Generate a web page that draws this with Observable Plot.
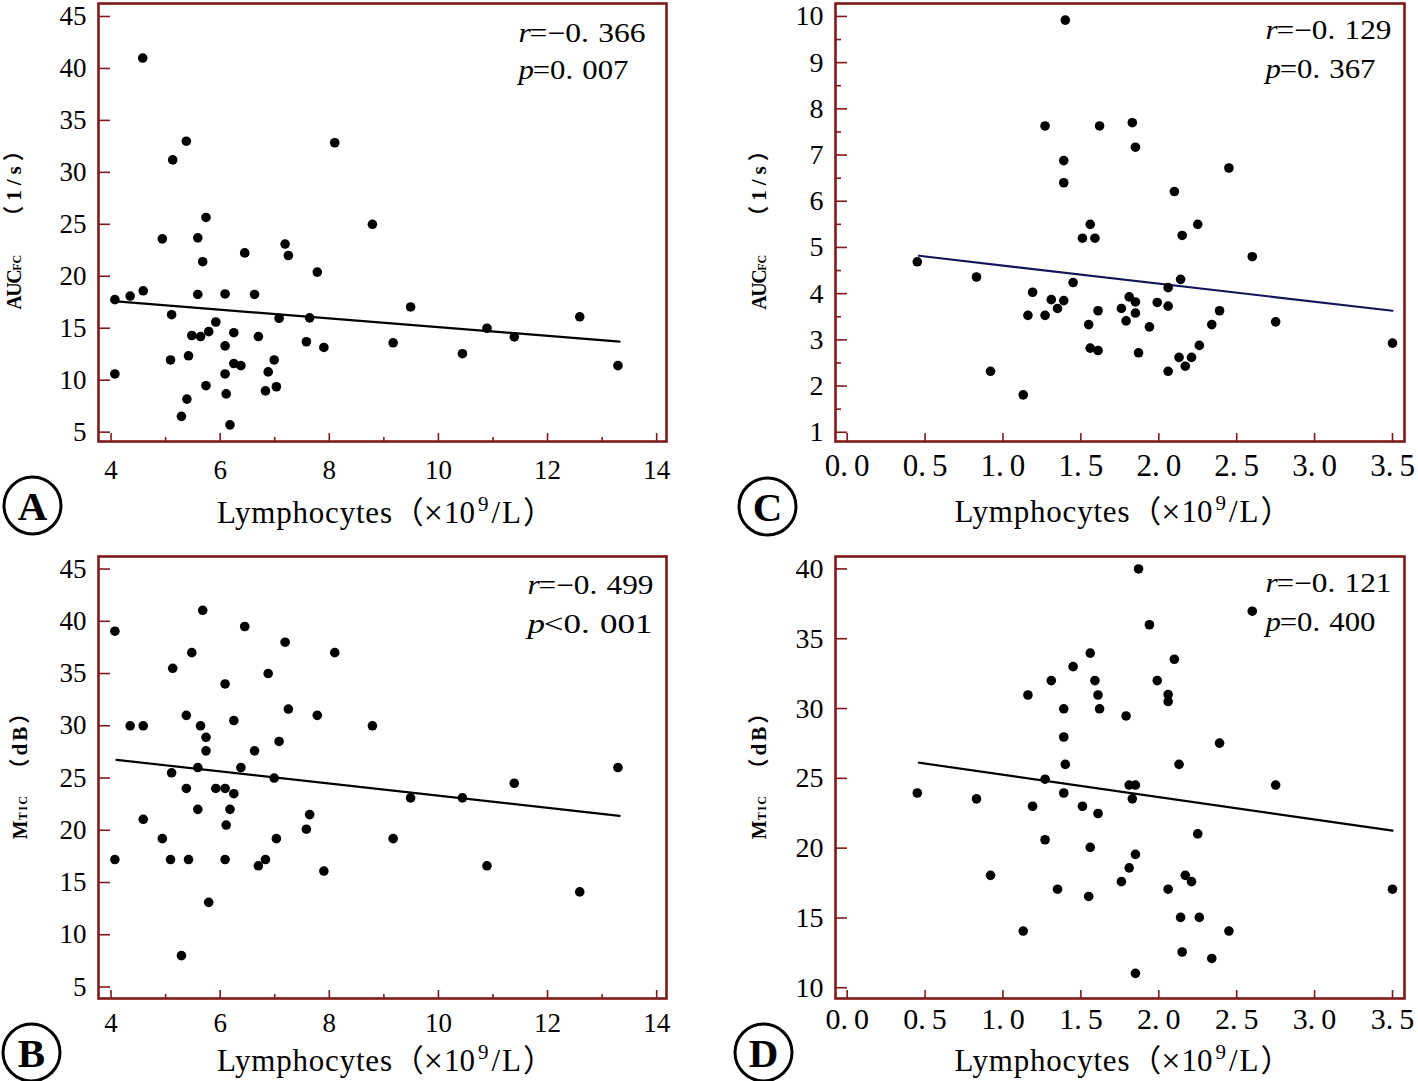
<!DOCTYPE html>
<html>
<head>
<meta charset="utf-8">
<script src="https://cdn.jsdelivr.net/npm/d3@7"></script>
<script src="https://cdn.jsdelivr.net/npm/@observablehq/plot@0.6"></script>
<style>
  html, body { margin: 0; padding: 0; background: #fff; }
  #wrap { position: relative; width: 1418px; height: 1081px; overflow: hidden; background: #fff; }
  .panel { position: absolute; }
  .panel svg { overflow: visible; }
</style>
</head>
<body>
<div id="wrap"></div>
<script>
// ---------- Data ----------
// Panel A: AUC_FC (1/s) vs lymphocytes (x10^9/L)
const lymphA = [4.58,5.38,5.13,8.10,5.74,8.79,4.94,5.59,6.45,7.19,7.25,5.68,7.78,4.07,4.35,4.59,5.59,6.09,6.63,9.49,5.11,7.08,7.64,12.59,5.92,5.79,5.48,5.64,6.25,6.70,10.89,11.39,7.58,9.17,6.09,7.90,5.09,5.42,6.99,10.44,6.25,6.38,13.29,4.07,6.09,6.88,5.74,7.03,6.83,6.11,5.39,5.29,6.18];
const aucA   = [41.0,33.0,31.2,32.85,25.66,25.0,23.6,23.7,22.25,23.1,22.0,21.4,20.4,17.75,18.1,18.6,18.25,18.3,18.25,17.05,16.3,15.96,16.0,16.1,15.6,14.67,14.3,14.2,14.57,14.2,15.0,14.17,13.7,13.6,13.3,13.15,11.95,12.35,11.95,12.55,11.6,11.4,11.4,10.6,10.6,10.8,9.47,9.37,8.97,8.68,8.18,6.52,5.7];
const fitAx = [4.10, 13.32];
const fitAy = [17.58, 13.71];

// Panel B: M_TIC (dB) vs lymphocytes
const lymphB = [5.68,4.07,6.45,7.19,5.48,8.10,5.13,6.88,6.09,7.25,5.38,7.78,6.25,4.35,4.59,5.64,8.79,5.74,7.08,5.74,6.63,5.59,6.38,13.29,5.11,6.99,11.39,5.38,5.92,6.09,6.25,9.49,10.44,5.59,6.18,7.64,4.59,6.11,7.58,4.94,7.03,9.17,4.07,5.09,5.42,6.09,6.83,6.70,10.89,7.90,12.59,5.79,5.29];
const mticB  = [41.05,39.05,39.5,38.0,37.0,37.0,35.5,35.0,34.0,31.6,31.0,31.0,30.5,30.0,30.0,30.0,30.0,28.9,28.5,27.6,27.6,26.0,26.0,26.0,25.5,25.0,24.5,24.0,24.0,24.0,23.5,23.1,23.1,22.0,22.0,21.5,21.05,20.5,20.1,19.2,19.2,19.2,17.2,17.2,17.2,17.2,17.2,16.6,16.6,16.1,14.1,13.1,8.0];
const fitBx = [4.10, 13.32];
const fitBy = [26.74, 21.38];

// Panel C: AUC_FC (1/s) vs lymphocytes
const lymphC = [1.40,1.27,1.62,1.83,1.85,1.39,1.39,2.45,2.10,1.56,2.25,1.51,1.59,2.15,2.60,0.45,0.83,2.14,1.45,1.19,1.31,1.39,1.81,2.06,1.85,1.99,2.06,1.35,1.76,1.61,2.39,1.85,1.16,1.27,1.79,2.75,1.55,2.34,1.94,3.50,2.26,1.56,1.61,1.87,2.13,2.21,2.17,0.92,2.06,1.13];
const aucC   = [9.92,7.63,7.63,7.70,7.17,6.88,6.40,6.72,6.21,5.50,5.50,5.20,5.20,5.26,4.80,4.69,4.36,4.31,4.24,4.03,3.87,3.85,3.93,4.13,3.82,3.81,3.73,3.68,3.68,3.63,3.63,3.58,3.53,3.53,3.41,3.39,3.33,3.33,3.28,2.93,2.88,2.82,2.77,2.72,2.62,2.62,2.43,2.32,2.32,1.81];
const fitCx = [0.46, 3.50];
const fitCy = [4.82, 3.63];

// Panel D: M_TIC (dB) vs lymphocytes
const lymphD = [1.87,2.60,1.94,1.56,2.10,1.45,1.31,1.59,1.99,1.16,1.61,2.06,2.06,1.39,1.62,1.79,2.39,1.39,1.40,2.13,1.27,1.81,1.85,2.75,0.45,1.39,0.83,1.83,1.19,1.51,1.61,2.25,1.27,1.56,1.85,1.81,0.92,2.17,1.76,2.21,1.35,2.06,3.50,1.55,2.14,2.26,1.13,2.45,2.15,2.34,1.85];
const mticD  = [40.0,36.97,36.0,33.97,33.53,33.0,32.0,32.0,32.0,30.97,30.97,31.0,30.5,29.98,29.98,29.47,27.52,27.96,26.0,26.0,24.94,24.52,24.52,24.52,23.95,23.95,23.53,23.53,23.0,23.0,22.48,21.02,20.6,20.06,19.55,18.59,18.05,18.05,17.6,17.6,17.06,17.06,17.06,16.54,15.04,15.04,14.06,14.06,12.56,12.1,11.03];
const fitDx = [0.46, 3.50];
const fitDy = [26.12, 21.25];

// Ticks
const xTicksAB = [4, 6, 8, 10, 12, 14];
const xMinorAB = [5, 7, 9, 11, 13];
const xTicksCD = [0, 0.5, 1, 1.5, 2, 2.5, 3, 3.5];
const yTicksAB = [5, 10, 15, 20, 25, 30, 35, 40, 45];
const yTicksC  = [1, 2, 3, 4, 5, 6, 7, 8, 9, 10];
const yMinorC  = [1.5, 2.5, 3.5, 4.5, 5.5, 6.5, 7.5, 8.5, 9.5];
const yTicksD  = [10, 15, 20, 25, 30, 35, 40];

// Texts
const xTitle = "Lymphocytes（×109/L）";
const stats = {A: ["r=−0.366", "p=0.007"], B: ["r=−0.499", "p<0.001"], C: ["r=−0.129", "p=0.367"], D: ["r=−0.121", "p=0.400"]};
const yTitles = {auc: ["AUC", "FC", "（1/s）"], mtic: ["M", "TIC", "（dB）"]};

// ---------- Rendering ----------
const maroon = "#7f1a1a";
const serif = "'Liberation Serif', 'Noto Sans CJK SC', serif";
const SVGNS = "http://www.w3.org/2000/svg";

function setParts(textEl, parts) {
  if (!textEl) return;
  textEl.textContent = "";
  for (const p of parts) {
    const ts = document.createElementNS(SVGNS, "tspan");
    ts.textContent = p.t;
    for (const [k, v] of Object.entries(p.a || {})) ts.setAttribute(k, v);
    textEl.appendChild(ts);
  }
}

function panel(cfg) {
  const W = 709, H = 540;
  const iw = W - cfg.ml - cfg.mr, ih = H - cfg.mt - cfg.mb;
  const pts = cfg.xs.map((x, i) => ({x, y: cfg.ys[i]}));
  const fit = cfg.fitX.map((x, i) => ({x, y: cfg.fitY[i]}));
  const marks = [
    Plot.tickX(cfg.xMajor, {x: d => d, stroke: maroon, strokeWidth: 1.6, insetTop: ih - 8}),
    Plot.tickY(cfg.yMajor, {y: d => d, stroke: maroon, strokeWidth: 1.6, insetRight: iw - 12}),
  ];
  if (cfg.xMinor) marks.push(Plot.tickX(cfg.xMinor, {x: d => d, stroke: maroon, strokeWidth: 1.6, insetTop: ih - 4}));
  if (cfg.yMinor) marks.push(Plot.tickY(cfg.yMinor, {y: d => d, stroke: maroon, strokeWidth: 1.6, insetRight: iw - 6}));
  marks.push(
    Plot.frame({stroke: maroon, strokeWidth: 2.6}),
    Plot.axisX(cfg.xMajor, {tickSize: 0, tickPadding: cfg.xPad, fontSize: cfg.xFont, fontFamily: serif, tickFormat: cfg.xFmt, label: null}),
    Plot.axisY(cfg.yMajor, {tickSize: 0, tickPadding: 12, fontSize: cfg.yFont, fontFamily: serif, label: null}),
    Plot.line(fit, {x: "x", y: "y", stroke: cfg.fitColor, strokeWidth: 2.2}),
    Plot.dot(pts, {x: "x", y: "y", r: 4.8, fill: "#000", stroke: "none"}),
    // text marks, in this order: x title, y title, r stat, p stat, panel letter
    Plot.text([xTitle], {frameAnchor: "bottom", dx: 3, dy: cfg.xTitleDy, lineAnchor: "middle", textAnchor: "middle", fontSize: 31, fontFamily: serif}),
    Plot.text([cfg.yTitle.join("")], {frameAnchor: "left", dx: cfg.yTitleDx, dy: cfg.yTitleDy, rotate: -90, lineAnchor: "middle", textAnchor: "middle", fontSize: 20, fontWeight: "bold", fontFamily: serif}),
    Plot.text([cfg.stat[0]], {frameAnchor: "top-right", dx: cfg.statDx, dy: cfg.rDy, textAnchor: "start", lineAnchor: "middle", fontSize: 27, fontFamily: serif}),
    Plot.text([cfg.stat[1]], {frameAnchor: "top-right", dx: cfg.statDx, dy: cfg.pDy, textAnchor: "start", lineAnchor: "middle", fontSize: 27, fontFamily: serif}),
    Plot.dot([cfg.letter], {frameAnchor: "bottom-left", dx: cfg.letterDx, dy: cfg.letterDy, r: 28.5, stroke: "#000", strokeWidth: 3, fill: "none"}),
    Plot.text([cfg.letter], {frameAnchor: "bottom-left", dx: cfg.letterDx, dy: cfg.letterDy + 1, lineAnchor: "middle", textAnchor: "middle", fontSize: 41, fontWeight: "bold", fontFamily: serif})
  );
  const svg = Plot.plot({
    width: W, height: H,
    marginLeft: cfg.ml, marginRight: cfg.mr, marginTop: cfg.mt, marginBottom: cfg.mb,
    x: {domain: cfg.xDomain, label: null},
    y: {domain: cfg.yDomain, label: null},
    style: {fontFamily: serif, background: "transparent", color: "#000", overflow: "visible"},
    marks
  });

  const textGroups = svg.querySelectorAll('g[aria-label="text"]');
  const tx = i => textGroups[i] ? textGroups[i].querySelector("text") : null;

  // x title with superscript 9
  setParts(tx(0), [
    {t: "Lymphocytes", a: {"letter-spacing": "0.8"}},
    {t: "（"},
    {t: "×", a: {"font-size": "34", dy: "1"}},
    {t: "10", a: {dx: "1", dy: "-1"}},
    {t: "9", a: {"font-size": "21", dx: "3", dy: "-12"}},
    {t: "/L", a: {dx: "3", dy: "12", "letter-spacing": "2"}},
    {t: "）"}
  ]);
  // y title with small subscript caps
  setParts(tx(1), [
    {t: cfg.yTitle[0], a: {"letter-spacing": cfg.capLs}},
    {t: cfg.yTitle[1], a: {"font-size": "12", "letter-spacing": cfg.subLs}},
    {t: cfg.yTitle[2], a: {dx: cfg.parenDx, "letter-spacing": cfg.parenLs, "font-size": "21"}}
  ]);
  // stats with italic r / p and wide gap after decimal point
  [2, 3].forEach((i, j) => {
    const el = tx(i);
    if (!el) return;
    const s = el.textContent;
    const head = s[0], rest = s.slice(1);
    const k = rest.indexOf(".");
    setParts(el, [
      {t: head, a: {"font-style": "italic"}},
      {t: rest.slice(0, k + 1), a: {dx: "-1"}},
      {t: rest.slice(k + 1), a: {dx: "8"}}
    ]);
    el.setAttribute("textLength", cfg.statW[j]);
    el.setAttribute("lengthAdjust", "spacingAndGlyphs");
  });
  // C/D x tick labels: wide gap after the decimal point
  if (cfg.gapTicks) {
    svg.querySelectorAll('g[aria-label="x-axis tick label"] text').forEach(el => {
      const s = el.textContent;
      const k = s.indexOf(".");
      if (k >= 0) setParts(el, [{t: s.slice(0, k + 1)}, {t: s.slice(k + 1), a: {dx: "6"}}]);
    });
  }

  const div = document.createElement("div");
  div.className = "panel";
  div.style.left = cfg.left + "px";
  div.style.top = cfg.top + "px";
  div.appendChild(svg);
  document.getElementById("wrap").appendChild(div);
}

const fmtCD = d => d.toFixed(1);
const aucStyle = {capLs: "-1.5", subLs: "0", parenDx: "28", parenLs: "5"};
const mticStyle = {capLs: "0", subLs: "1.5", parenDx: "15", parenLs: "3"};

panel({letter: "A", left: 0, top: 0, ml: 98, mr: 43, mt: 3, mb: 99,
  xs: lymphA, ys: aucA, fitX: fitAx, fitY: fitAy, fitColor: "#000",
  xDomain: [3.77, 14.18], yDomain: [4.10, 46.25],
  xMajor: xTicksAB, xMinor: xMinorAB, yMajor: yTicksAB,
  xPad: 18, xFont: 27, yFont: 27, xFmt: d => String(d),
  xTitleDy: 72, yTitle: yTitles.auc, ...aucStyle, yTitleDx: -84, yTitleDy: 0,
  stat: stats.A, statW: [127, 110], statDx: -148, rDy: 30, pDy: 67, letterDx: -66, letterDy: 64});

panel({letter: "C", left: 709, top: 0, ml: 126, mr: 14, mt: 3, mb: 99,
  xs: lymphC, ys: aucC, fitX: fitCx, fitY: fitCy, fitColor: "#14145a",
  xDomain: [-0.075, 3.577], yDomain: [0.80, 10.28],
  xMajor: xTicksCD, yMajor: yTicksC, yMinor: yMinorC,
  xPad: 12, xFont: 31, yFont: 28, xFmt: fmtCD, gapTicks: true,
  xTitleDy: 71, yTitle: yTitles.auc, ...aucStyle, yTitleDx: -76, yTitleDy: 0,
  stat: stats.C, statW: [126, 110], statDx: -139, rDy: 27, pDy: 66, letterDx: -68, letterDy: 65});

panel({letter: "B", left: 0, top: 541, ml: 98, mr: 43, mt: 15, mb: 83,
  xs: lymphB, ys: mticB, fitX: fitBx, fitY: fitBy, fitColor: "#000",
  xDomain: [3.77, 14.18], yDomain: [3.9, 46.2],
  xMajor: xTicksAB, xMinor: xMinorAB, yMajor: yTicksAB,
  xPad: 14, xFont: 27, yFont: 27, xFmt: d => String(d),
  xTitleDy: 63, yTitle: yTitles.mtic, ...mticStyle, yTitleDx: -78, yTitleDy: -8,
  stat: stats.B, statW: [126, 125], statDx: -139, rDy: 28.5, pDy: 67.5, letterDx: -67, letterDy: 54});

panel({letter: "D", left: 709, top: 541, ml: 126, mr: 14, mt: 15, mb: 83,
  xs: lymphD, ys: mticD, fitX: fitDx, fitY: fitDy, fitColor: "#000",
  xDomain: [-0.075, 3.577], yDomain: [9.23, 40.89],
  xMajor: xTicksCD, yMajor: yTicksD,
  xPad: 9, xFont: 30, yFont: 28, xFmt: fmtCD, gapTicks: true,
  xTitleDy: 63, yTitle: yTitles.mtic, ...mticStyle, yTitleDx: -76, yTitleDy: -8,
  stat: stats.D, statW: [126, 110], statDx: -139, rDy: 27, pDy: 65.5, letterDx: -72, letterDy: 54});
</script>
</body>
</html>
